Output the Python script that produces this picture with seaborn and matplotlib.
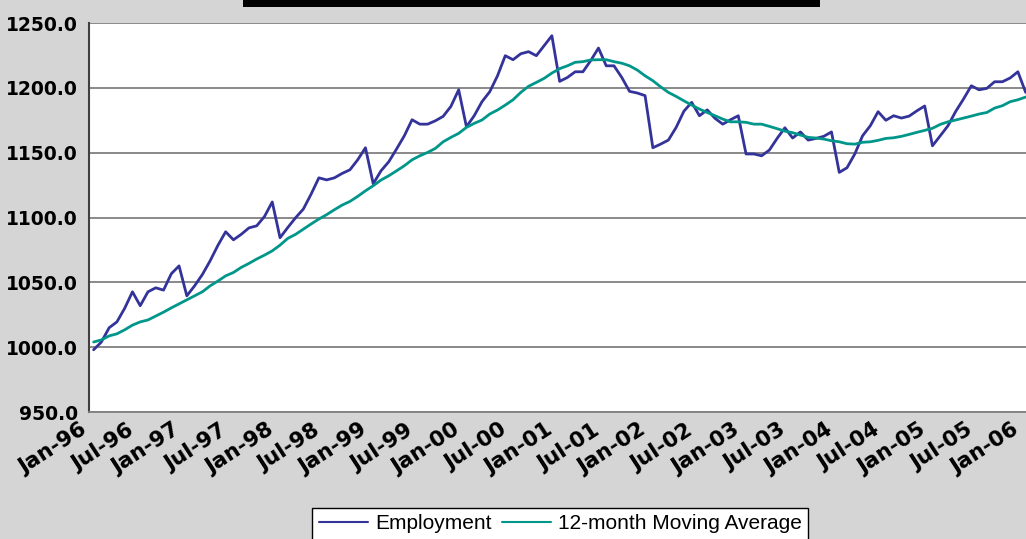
import numpy as np
import pandas as pd
import matplotlib
matplotlib.use("Agg")
import matplotlib.pyplot as plt
import matplotlib.transforms as mtransforms
import seaborn as sns
from matplotlib.patches import Rectangle

# monthly employment, Jan-96 .. Jan-06 (thousands)
employment = [998, 1004, 1015, 1019.5, 1030, 1042.7, 1032, 1042.7, 1045.8, 1044, 1056.6, 1062.7,
              1039.6, 1047.3, 1056, 1066.6, 1078.5, 1089, 1082.8, 1087, 1092, 1093.6, 1100.8, 1112,
              1084.4, 1092.3, 1099.8, 1106.5, 1118, 1130.6, 1129, 1130.6, 1134, 1136.8, 1144.5, 1153.8,
              1126, 1136, 1143, 1152.8, 1163, 1175.4, 1172, 1172, 1174.6, 1178, 1185.7, 1198.5,
              1170, 1178.5, 1189.3, 1197, 1209.3, 1224.8, 1221.7, 1226.3, 1227.9, 1224.8, 1232.5, 1240.2,
              1205, 1208, 1212.4, 1212.4, 1221, 1230.7, 1217, 1217, 1208, 1197.3, 1196, 1194,
              1153.8, 1156.6, 1159.7, 1169.5, 1182, 1188.8, 1178.5, 1183, 1176.5, 1172, 1175.4, 1178.5,
              1149, 1149, 1147.6, 1152, 1161, 1169.2, 1161.3, 1166, 1159.7, 1161, 1162.6, 1166,
              1134.8, 1138.4, 1149, 1163, 1170.8, 1181.6, 1175, 1178.5, 1176.7, 1178.2, 1182.3, 1186,
              1155.3, 1163, 1170.8, 1181.9, 1191.4, 1201.6, 1198.5, 1199.6, 1204.7, 1204.7, 1207.6, 1212.4,
              1196.5]

moving_avg = [1004, 1005.6, 1008.7, 1010.3, 1013.4, 1017, 1019.5, 1021, 1024, 1027, 1030.3, 1033.4,
              1036.5, 1039.6, 1042.7, 1047.3, 1051, 1055, 1057.6, 1061.5, 1064.6, 1068, 1071, 1074.3,
              1078.7, 1083.9, 1087, 1091, 1095, 1098.8, 1102.2, 1106, 1109.6, 1112.4, 1116.3, 1120.6,
              1124.5, 1128.9, 1132.2, 1136, 1139.9, 1144.5, 1147.6, 1150.2, 1153.3, 1158.4, 1161.8, 1164.9,
              1169.5, 1172.6, 1175.2, 1179.8, 1182.9, 1186.7, 1190.8, 1196.5, 1201.2, 1204.2, 1207.3, 1211.4,
              1214.8, 1217, 1219.7, 1220.2, 1221.5, 1221.7, 1221.7, 1220.2, 1219, 1217, 1213.7, 1209.3,
              1205.5, 1200.8, 1196.5, 1193.4, 1190, 1186.7, 1183.6, 1181, 1178.5, 1175.9, 1173.8, 1173.8,
              1173.4, 1172, 1172, 1170.3, 1168.5, 1166.6, 1165.4, 1163.6, 1161.8, 1161.3, 1160.5, 1159.2,
              1158.4, 1156.9, 1156.6, 1158, 1158.4, 1159.5, 1161, 1161.5, 1162.6, 1164.1, 1165.7, 1167.2,
              1168.8, 1171.8, 1173.8, 1175.2, 1176.7, 1178.2, 1179.8, 1181, 1184.4, 1186.2, 1189.3, 1190.8,
              1192.9]

tick_labels = ["Jan-96", "Jul-96", "Jan-97", "Jul-97", "Jan-98", "Jul-98", "Jan-99", "Jul-99",
               "Jan-00", "Jul-00", "Jan-01", "Jul-01", "Jan-02", "Jul-02", "Jan-03", "Jul-03",
               "Jan-04", "Jul-04", "Jan-05", "Jul-05", "Jan-06"]

df = pd.DataFrame({"month": np.arange(len(employment)),
                   "Employment": employment,
                   "12-month Moving Average": moving_avg})
long_df = df.melt(id_vars="month", var_name="series", value_name="value")

sns.set_style("white")
plt.rcParams["font.family"] = ["Liberation Sans", "DejaVu Sans"]
plt.rcParams["text.color"] = "black"

fig = plt.figure(figsize=(10.26, 5.39), dpi=100)
fig.patch.set_facecolor("#d5d5d5")
ax = fig.add_axes([0.0867, 0.2356, 0.916, 0.7217])
ax.set_facecolor("white")

# black title bar cut off at the top
fig.patches.append(Rectangle((0.237, 0.987), 0.562, 0.02, transform=fig.transFigure,
                             facecolor="black", edgecolor="none", zorder=5))

sns.lineplot(data=long_df, x="month", y="value", hue="series",
             palette={"Employment": "#333399", "12-month Moving Average": "#00968a"},
             linewidth=2, ax=ax, legend=False)

ax.set_xlim(-0.6, 120.4)
ax.set_ylim(950, 1250)
ax.set_yticks(np.arange(950, 1251, 50))
ax.set_yticklabels([f"{v:.1f}" for v in np.arange(950, 1251, 50)],
                   fontsize=13.5, fontweight="bold", family="DejaVu Sans", color="black")

# rotated month labels, nudged a little left of their month like in Excel
tick_pos = np.arange(0, 121, 6)
ax.set_xticks(tick_pos)
ax.set_xticklabels([])
label_trans = mtransforms.offset_copy(ax.get_xaxis_transform(), fig=fig,
                                      x=-14, y=-8, units="dots")
for pos, lab in zip(tick_pos, tick_labels):
    ax.text(pos, 0, lab, transform=label_trans, fontsize=15.5, fontweight="bold",
            family="DejaVu Sans", color="black", rotation=33, ha="right", va="top",
            rotation_mode="anchor", clip_on=False)

ax.tick_params(axis="y", length=5, color="#404040", pad=3)
ax.tick_params(axis="x", length=0)
ax.set_xlabel("")
ax.set_ylabel("")
ax.grid(axis="y", color="#808080", linewidth=1.3)
ax.set_axisbelow(True)
for side in ["top", "right"]:
    ax.spines[side].set_visible(False)
ax.spines["left"].set_color("#404040")
ax.spines["left"].set_linewidth(1.5)
ax.spines["bottom"].set_color("#808080")
ax.spines["bottom"].set_linewidth(1.3)

handles = [plt.Line2D([], [], color="#333399", linewidth=1.5),
           plt.Line2D([], [], color="#00968a", linewidth=1.5)]
leg = fig.legend(handles, ["Employment", "12-month Moving Average"], loc="upper center",
                 bbox_to_anchor=(0.546, 0.0575), borderaxespad=0, ncol=2, fontsize=15,
                 frameon=True, fancybox=False, edgecolor="black", framealpha=1,
                 handlelength=2.35, columnspacing=0.5, handletextpad=0.35, borderpad=0.3)
leg.get_frame().set_linewidth(1.0)

fig.savefig("out.png", dpi=100, facecolor=fig.get_facecolor())
